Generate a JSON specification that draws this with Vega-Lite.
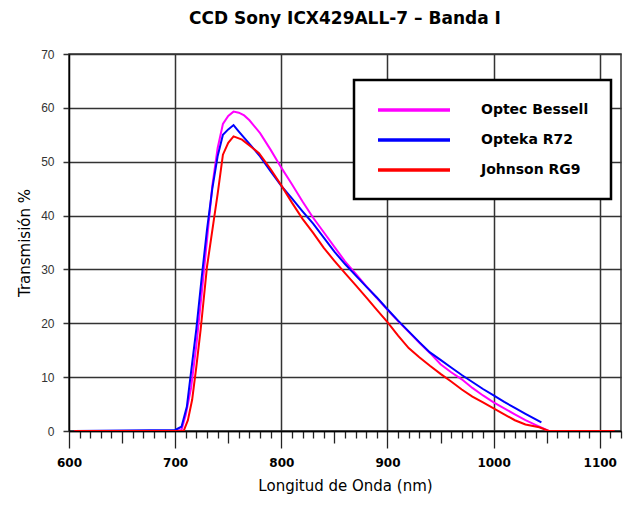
{
  "$schema": "https://vega.github.io/schema/vega-lite/v6.json",
  "width": 552,
  "height": 377,
  "autosize": {"type": "none"},
  "padding": {"left": 69, "top": 54, "right": 15, "bottom": 75},
  "background": "white",
  "title": {
    "text": "CCD Sony ICX429ALL-7 – Banda I",
    "font": "DejaVu Sans",
    "fontSize": 17,
    "fontWeight": "bold",
    "color": "black",
    "anchor": "middle",
    "offset": 20
  },
  "config": {
    "view": {"stroke": "#333", "strokeWidth": 1.5},
    "axis": {"domainColor": "black", "domainWidth": 1.5}
  },
  "data": {
    "values": [
      {"series": "Optec Bessell", "nm": 605, "t": 0},
      {"series": "Optec Bessell", "nm": 700, "t": 0},
      {"series": "Optec Bessell", "nm": 706, "t": 0.2},
      {"series": "Optec Bessell", "nm": 710, "t": 3},
      {"series": "Optec Bessell", "nm": 715, "t": 8},
      {"series": "Optec Bessell", "nm": 720, "t": 16},
      {"series": "Optec Bessell", "nm": 725, "t": 25.5},
      {"series": "Optec Bessell", "nm": 730, "t": 35.5},
      {"series": "Optec Bessell", "nm": 735, "t": 45.5},
      {"series": "Optec Bessell", "nm": 740, "t": 52.5},
      {"series": "Optec Bessell", "nm": 745, "t": 57},
      {"series": "Optec Bessell", "nm": 750, "t": 58.5},
      {"series": "Optec Bessell", "nm": 755, "t": 59.3},
      {"series": "Optec Bessell", "nm": 760, "t": 59.1},
      {"series": "Optec Bessell", "nm": 765, "t": 58.6},
      {"series": "Optec Bessell", "nm": 770, "t": 57.7},
      {"series": "Optec Bessell", "nm": 780, "t": 55.3},
      {"series": "Optec Bessell", "nm": 790, "t": 52.2},
      {"series": "Optec Bessell", "nm": 800, "t": 48.9},
      {"series": "Optec Bessell", "nm": 810, "t": 45.8},
      {"series": "Optec Bessell", "nm": 820, "t": 42.6},
      {"series": "Optec Bessell", "nm": 830, "t": 39.6},
      {"series": "Optec Bessell", "nm": 840, "t": 36.9},
      {"series": "Optec Bessell", "nm": 850, "t": 34.2},
      {"series": "Optec Bessell", "nm": 860, "t": 31.5},
      {"series": "Optec Bessell", "nm": 870, "t": 29.2},
      {"series": "Optec Bessell", "nm": 880, "t": 26.9},
      {"series": "Optec Bessell", "nm": 890, "t": 24.7},
      {"series": "Optec Bessell", "nm": 900, "t": 22.5},
      {"series": "Optec Bessell", "nm": 910, "t": 20.4},
      {"series": "Optec Bessell", "nm": 920, "t": 18.4},
      {"series": "Optec Bessell", "nm": 930, "t": 16.4},
      {"series": "Optec Bessell", "nm": 940, "t": 14.5},
      {"series": "Optec Bessell", "nm": 950, "t": 12.4},
      {"series": "Optec Bessell", "nm": 960, "t": 10.9},
      {"series": "Optec Bessell", "nm": 970, "t": 9.6},
      {"series": "Optec Bessell", "nm": 980, "t": 8},
      {"series": "Optec Bessell", "nm": 990, "t": 6.6},
      {"series": "Optec Bessell", "nm": 1000, "t": 5.3},
      {"series": "Optec Bessell", "nm": 1010, "t": 4.2},
      {"series": "Optec Bessell", "nm": 1020, "t": 3.1},
      {"series": "Optec Bessell", "nm": 1030, "t": 2},
      {"series": "Optec Bessell", "nm": 1040, "t": 1.1},
      {"series": "Optec Bessell", "nm": 1052, "t": 0},
      {"series": "Optec Bessell", "nm": 1106, "t": 0},

      {"series": "Opteka R72", "nm": 605, "t": 0},
      {"series": "Opteka R72", "nm": 700, "t": 0.2},
      {"series": "Opteka R72", "nm": 706, "t": 0.8},
      {"series": "Opteka R72", "nm": 711, "t": 4.5},
      {"series": "Opteka R72", "nm": 715, "t": 11},
      {"series": "Opteka R72", "nm": 720, "t": 19},
      {"series": "Opteka R72", "nm": 725, "t": 28.5},
      {"series": "Opteka R72", "nm": 730, "t": 37.4},
      {"series": "Opteka R72", "nm": 735, "t": 45},
      {"series": "Opteka R72", "nm": 740, "t": 51},
      {"series": "Opteka R72", "nm": 745, "t": 55},
      {"series": "Opteka R72", "nm": 750, "t": 56},
      {"series": "Opteka R72", "nm": 755, "t": 56.8},
      {"series": "Opteka R72", "nm": 760, "t": 55.6},
      {"series": "Opteka R72", "nm": 770, "t": 53.3},
      {"series": "Opteka R72", "nm": 780, "t": 51},
      {"series": "Opteka R72", "nm": 790, "t": 48.2},
      {"series": "Opteka R72", "nm": 800, "t": 45.5},
      {"series": "Opteka R72", "nm": 810, "t": 43.2},
      {"series": "Opteka R72", "nm": 820, "t": 40.8},
      {"series": "Opteka R72", "nm": 830, "t": 38.5},
      {"series": "Opteka R72", "nm": 840, "t": 35.9},
      {"series": "Opteka R72", "nm": 850, "t": 33.3},
      {"series": "Opteka R72", "nm": 860, "t": 31},
      {"series": "Opteka R72", "nm": 870, "t": 28.9},
      {"series": "Opteka R72", "nm": 880, "t": 26.8},
      {"series": "Opteka R72", "nm": 890, "t": 24.8},
      {"series": "Opteka R72", "nm": 900, "t": 22.6},
      {"series": "Opteka R72", "nm": 910, "t": 20.5},
      {"series": "Opteka R72", "nm": 920, "t": 18.5},
      {"series": "Opteka R72", "nm": 930, "t": 16.5},
      {"series": "Opteka R72", "nm": 940, "t": 14.6},
      {"series": "Opteka R72", "nm": 950, "t": 13.2},
      {"series": "Opteka R72", "nm": 960, "t": 11.8},
      {"series": "Opteka R72", "nm": 970, "t": 10.4},
      {"series": "Opteka R72", "nm": 980, "t": 9.1},
      {"series": "Opteka R72", "nm": 990, "t": 7.8},
      {"series": "Opteka R72", "nm": 1000, "t": 6.6},
      {"series": "Opteka R72", "nm": 1010, "t": 5.4},
      {"series": "Opteka R72", "nm": 1020, "t": 4.3},
      {"series": "Opteka R72", "nm": 1030, "t": 3.2},
      {"series": "Opteka R72", "nm": 1045, "t": 1.6},

      {"series": "Johnson RG9", "nm": 605, "t": 0},
      {"series": "Johnson RG9", "nm": 708, "t": 0},
      {"series": "Johnson RG9", "nm": 712, "t": 2},
      {"series": "Johnson RG9", "nm": 716, "t": 5.8},
      {"series": "Johnson RG9", "nm": 720, "t": 12},
      {"series": "Johnson RG9", "nm": 724, "t": 18.8},
      {"series": "Johnson RG9", "nm": 730, "t": 30.5},
      {"series": "Johnson RG9", "nm": 736, "t": 38.6},
      {"series": "Johnson RG9", "nm": 740, "t": 44},
      {"series": "Johnson RG9", "nm": 745, "t": 51.3},
      {"series": "Johnson RG9", "nm": 750, "t": 53.5},
      {"series": "Johnson RG9", "nm": 755, "t": 54.7},
      {"series": "Johnson RG9", "nm": 763, "t": 54.1},
      {"series": "Johnson RG9", "nm": 770, "t": 53},
      {"series": "Johnson RG9", "nm": 779, "t": 51.6},
      {"series": "Johnson RG9", "nm": 790, "t": 48.6},
      {"series": "Johnson RG9", "nm": 800, "t": 45.6},
      {"series": "Johnson RG9", "nm": 810, "t": 42.4},
      {"series": "Johnson RG9", "nm": 820, "t": 39.4},
      {"series": "Johnson RG9", "nm": 830, "t": 36.8},
      {"series": "Johnson RG9", "nm": 840, "t": 34},
      {"series": "Johnson RG9", "nm": 850, "t": 31.6},
      {"series": "Johnson RG9", "nm": 860, "t": 29.3},
      {"series": "Johnson RG9", "nm": 870, "t": 27.1},
      {"series": "Johnson RG9", "nm": 880, "t": 24.8},
      {"series": "Johnson RG9", "nm": 890, "t": 22.5},
      {"series": "Johnson RG9", "nm": 900, "t": 20.2},
      {"series": "Johnson RG9", "nm": 910, "t": 17.7},
      {"series": "Johnson RG9", "nm": 920, "t": 15.4},
      {"series": "Johnson RG9", "nm": 930, "t": 13.7},
      {"series": "Johnson RG9", "nm": 940, "t": 12.1},
      {"series": "Johnson RG9", "nm": 950, "t": 10.6},
      {"series": "Johnson RG9", "nm": 960, "t": 9.2},
      {"series": "Johnson RG9", "nm": 970, "t": 7.7},
      {"series": "Johnson RG9", "nm": 980, "t": 6.4},
      {"series": "Johnson RG9", "nm": 990, "t": 5.3},
      {"series": "Johnson RG9", "nm": 1000, "t": 4.2},
      {"series": "Johnson RG9", "nm": 1010, "t": 3.1},
      {"series": "Johnson RG9", "nm": 1020, "t": 2},
      {"series": "Johnson RG9", "nm": 1030, "t": 1.2},
      {"series": "Johnson RG9", "nm": 1043, "t": 0.7},
      {"series": "Johnson RG9", "nm": 1052, "t": 0},
      {"series": "Johnson RG9", "nm": 1114, "t": 0}
    ]
  },
  "mark": {"type": "line", "strokeWidth": 2, "clip": true},
  "encoding": {
    "x": {
      "field": "nm",
      "type": "quantitative",
      "scale": {"domain": [600, 1120], "nice": false, "zero": false},
      "axis": {
        "values": [600,610,620,630,640,650,660,670,680,690,700,710,720,730,740,750,760,770,780,790,800,810,820,830,840,850,860,870,880,890,900,910,920,930,940,950,960,970,980,990,1000,1010,1020,1030,1040,1050,1060,1070,1080,1090,1100,1110,1120],
        "title": "Longitud de Onda (nm)",
        "titleFont": "DejaVu Sans",
        "titleFontSize": 15,
        "titleFontWeight": "normal",
        "titleColor": "black",
        "titlePadding": 10,
        "labelFont": "DejaVu Sans",
        "labelFontSize": 12,
        "labelFontWeight": "bold",
        "labelColor": "black",
        "labelExpr": "datum.value % 100 === 0 ? '' + datum.value : ''",
        "labelPadding": 9,
        "labelFlush": false,
        "labelOverlap": false,
        "tickColor": "#222",
        "tickWidth": 1.3,
        "tickSize": {"condition": [{"test": "datum.value % 100 === 0", "value": 17}, {"test": "datum.value % 50 === 0", "value": 12}], "value": 7},
        "grid": true,
        "gridColor": "#333",
        "gridWidth": 1.5,
        "gridOpacity": {"condition": {"test": "datum.value % 100 === 0 && datum.value > 600", "value": 1}, "value": 0}
      }
    },
    "y": {
      "field": "t",
      "type": "quantitative",
      "scale": {"domain": [0, 70], "nice": false},
      "axis": {
        "values": [0, 10, 20, 30, 40, 50, 60, 70],
        "title": "Transmisión %",
        "titleFont": "DejaVu Sans",
        "titleFontSize": 15,
        "titleFontWeight": "normal",
        "titleColor": "black",
        "titlePadding": 8,
        "labelFont": "Liberation Sans",
        "labelFontSize": 12,
        "labelColor": "#333",
        "labelPadding": 9,
        "tickSize": 6,
        "tickColor": "#333",
        "tickWidth": 1.5,
        "grid": true,
        "gridColor": "#333",
        "gridWidth": 1.5
      }
    },
    "color": {
      "field": "series",
      "type": "nominal",
      "scale": {
        "domain": ["Optec Bessell", "Opteka R72", "Johnson RG9"],
        "range": ["#FF00FF", "#0000FF", "#FF0000"]
      },
      "legend": {
        "title": null,
        "orient": "none",
        "legendX": 285,
        "legendY": 26,
        "fillColor": "white",
        "strokeColor": "black",
        "padding": 22,
        "symbolType": "stroke",
        "symbolSize": 5184,
        "symbolStrokeWidth": 3.5,
        "labelFont": "DejaVu Sans",
        "labelFontSize": 14,
        "labelFontWeight": "bold",
        "labelColor": "black",
        "labelOffset": 29,
        "rowPadding": 15,
        "encode": {
          "legend": {"update": {"strokeWidth": {"value": 2.5}}},
          "symbols": {"update": {"y": {"value": 8}}},
          "labels": {"update": {"y": {"value": 8}}}
        }
      }
    }
  }
}
